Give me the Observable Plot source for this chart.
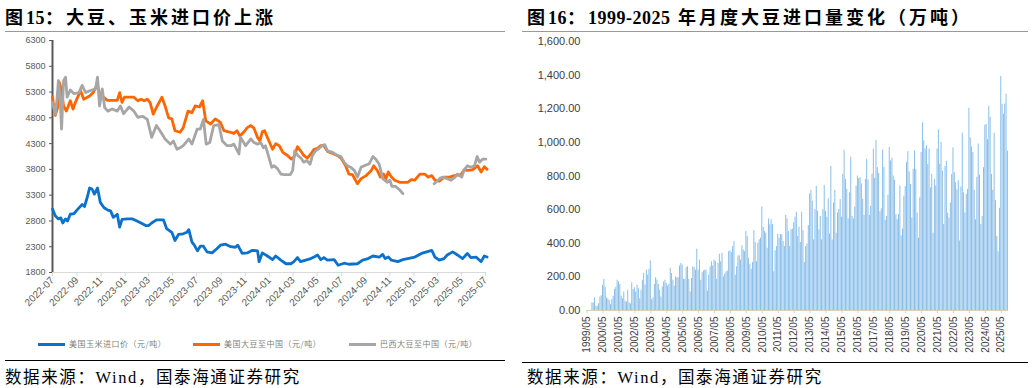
<!DOCTYPE html>
<html><head><meta charset="utf-8">
<script src="https://cdn.jsdelivr.net/npm/d3@7"></script>
<script src="https://cdn.jsdelivr.net/npm/@observablehq/plot@0.6"></script>
<style>
html,body{margin:0;padding:0;background:#fff}
body{width:1032px;height:388px;position:relative;overflow:hidden;font-family:"Liberation Sans",Arial,sans-serif}
.title{position:absolute;top:3px;font-family:"Liberation Serif","Noto Sans CJK SC",serif;font-weight:bold;font-size:18px;letter-spacing:3px;color:#000;white-space:nowrap}
.title .num{letter-spacing:0.5px}
.rule{position:absolute;height:0;border-top:1.5px solid #999}
.brule{position:absolute;height:0;border-top:1px solid #000}
.src{position:absolute;top:364px;font-family:"Liberation Serif","Noto Sans CJK SC",serif;font-size:16.5px;letter-spacing:1.6px;color:#000;white-space:nowrap}
.chart{position:absolute}
.lg{position:absolute;top:339px;height:10px}
.lg .sw{position:absolute;top:4px;width:27px;height:3px;left:0}
.lg .tx{position:absolute;left:31px;top:-1px;font-family:"Noto Sans CJK SC",sans-serif;font-size:8px;color:#808080;white-space:nowrap;letter-spacing:0.5px}
</style></head>
<body>
<div class="title" style="left:5px">图<span class="num">15</span>：大豆、玉米进口价上涨</div>
<div class="rule" style="left:5px;width:500px;top:31px"></div>
<div class="chart" id="left" style="left:0;top:30px"></div>
<div id="legend"></div>
<div class="brule" style="left:5px;width:500px;top:360px"></div>
<div class="src" style="left:5px">数据来源：Wind，国泰海通证券研究</div>

<div class="title" style="left:527px">图<span class="num">16</span>：<span class="num">1999-2025</span> 年月度大豆进口量变化（万吨）</div>
<div class="rule" style="left:522px;width:506px;top:31px"></div>
<div class="chart" id="right" style="left:520px;top:30px"></div>
<div class="brule" style="left:522px;width:506px;top:362px"></div>
<div class="src" style="left:527px">数据来源：Wind，国泰海通证券研究</div>

<script>
// ---------- Figure 15: prices (元/吨) ----------
const seriesNames = ["美国玉米进口价（元/吨）", "美国大豆至中国（元/吨）", "巴西大豆至中国（元/吨）"];
const seriesColors = ["#0a72cc", "#ff6600", "#a6a6a6"];
const priceTicks = [1800, 2300, 2800, 3300, 3800, 4300, 4800, 5300, 5800, 6300];
const dateTicks = ["2022-07","2022-09","2022-11","2023-01","2023-03","2023-05","2023-07","2023-09","2023-11","2024-01","2024-03","2024-05","2024-07","2024-09","2024-11","2025-01","2025-03","2025-05","2025-07"];

const usCorn = [["2022-07-01",3030],["2022-07-08",2900],["2022-07-16",2840],["2022-07-22",2860],["2022-07-27",2760],["2022-08-03",2840],["2022-08-08",2800],["2022-08-15",2930],["2022-08-24",2940],["2022-09-03",3030],["2022-09-14",3120],["2022-09-20",3080],["2022-09-27",3260],["2022-10-03",3440],["2022-10-09",3420],["2022-10-15",3320],["2022-10-23",3440],["2022-10-30",3160],["2022-11-08",3060],["2022-11-18",3010],["2022-11-25",2995],["2022-12-02",2870],["2022-12-12",2930],["2022-12-18",2680],["2022-12-24",2830],["2023-01-07",2840],["2023-01-19",2840],["2023-01-28",2810],["2023-02-10",2760],["2023-02-22",2710],["2023-03-01",2710],["2023-03-09",2760],["2023-03-21",2820],["2023-04-08",2820],["2023-04-16",2650],["2023-04-29",2580],["2023-05-07",2420],["2023-05-16",2540],["2023-05-28",2550],["2023-06-06",2580],["2023-06-11",2630],["2023-06-19",2390],["2023-06-25",2330],["2023-07-03",2220],["2023-07-10",2310],["2023-07-18",2310],["2023-07-27",2200],["2023-08-09",2180],["2023-08-21",2260],["2023-08-30",2330],["2023-09-12",2350],["2023-09-25",2300],["2023-10-07",2290],["2023-10-13",2330],["2023-10-24",2170],["2023-11-06",2180],["2023-11-19",2230],["2023-12-02",2220],["2023-12-06",2010],["2023-12-14",2180],["2023-12-27",2120],["2024-01-09",2050],["2024-01-17",2120],["2024-01-30",2040],["2024-02-12",1970],["2024-02-25",1970],["2024-03-03",2010],["2024-03-12",2090],["2024-03-20",2010],["2024-04-02",2040],["2024-04-15",2070],["2024-04-23",2100],["2024-05-02",2140],["2024-05-10",2050],["2024-05-18",2090],["2024-05-27",2040],["2024-06-13",2050],["2024-06-23",1940],["2024-07-08",1980],["2024-07-20",1960],["2024-08-11",1970],["2024-08-24",2040],["2024-09-07",2070],["2024-09-19",2120],["2024-10-05",2100],["2024-10-14",2150],["2024-10-20",2070],["2024-10-28",2100],["2024-11-05",2040],["2024-11-21",2010],["2024-12-04",2050],["2024-12-16",2070],["2025-01-03",2100],["2025-01-20",2170],["2025-02-02",2200],["2025-02-15",2230],["2025-02-23",2100],["2025-03-06",2040],["2025-03-18",2070],["2025-03-26",2140],["2025-04-09",2200],["2025-04-21",2140],["2025-05-04",2070],["2025-05-16",2170],["2025-05-25",2090],["2025-06-07",2100],["2025-06-20",2010],["2025-06-28",2120],["2025-07-05",2100]];

const usSoy = [["2022-07-01",5200],["2022-07-08",4850],["2022-07-14",5000],["2022-07-18",5490],["2022-07-23",5360],["2022-07-29",5030],["2022-08-05",4930],["2022-08-15",5130],["2022-08-22",4970],["2022-08-28",5100],["2022-09-10",5330],["2022-09-18",5160],["2022-10-03",5225],["2022-10-12",5290],["2022-10-22",5450],["2022-10-30",5225],["2022-11-08",5200],["2022-11-16",5140],["2022-12-12",5140],["2022-12-18",5290],["2022-12-24",5100],["2022-12-30",5200],["2023-01-23",5200],["2023-02-02",5130],["2023-02-10",5160],["2023-02-18",5130],["2023-02-26",5160],["2023-03-05",5100],["2023-03-13",4870],["2023-03-21",5000],["2023-04-04",5200],["2023-04-12",5030],["2023-04-21",4800],["2023-04-29",4780],["2023-05-07",4550],["2023-05-20",4520],["2023-05-28",4610],["2023-06-09",4930],["2023-06-19",4900],["2023-06-27",5030],["2023-07-08",5010],["2023-07-16",5130],["2023-07-24",4740],["2023-08-05",4680],["2023-08-17",4780],["2023-08-30",4710],["2023-09-08",4550],["2023-09-25",4520],["2023-10-03",4500],["2023-10-11",4550],["2023-10-18",4450],["2023-10-28",4520],["2023-11-06",4610],["2023-11-15",4650],["2023-11-23",4600],["2023-12-02",4420],["2023-12-08",4350],["2023-12-14",4530],["2023-12-20",4550],["2023-12-27",4420],["2024-01-09",4190],["2024-01-17",4300],["2024-01-26",4260],["2024-02-04",4130],["2024-02-16",4070],["2024-02-25",4000],["2024-03-03",4035],["2024-03-12",4240],["2024-03-20",4160],["2024-03-28",4070],["2024-04-06",4020],["2024-04-15",4100],["2024-04-23",4190],["2024-05-02",4210],["2024-05-10",4260],["2024-05-18",4260],["2024-05-27",4150],["2024-06-09",4110],["2024-06-21",4070],["2024-06-30",4020],["2024-07-12",3870],["2024-07-20",3710],["2024-07-29",3700],["2024-08-11",3520],["2024-08-20",3620],["2024-09-02",3680],["2024-09-15",3780],["2024-09-21",3870],["2024-09-30",3780],["2024-10-08",3650],["2024-10-16",3710],["2024-10-22",3620],["2024-10-28",3750],["2024-11-05",3650],["2024-11-13",3590],["2024-11-26",3550],["2024-12-16",3550],["2024-12-25",3600],["2025-01-03",3590],["2025-01-16",3710],["2025-01-28",3710],["2025-02-06",3650],["2025-02-15",3680],["2025-02-23",3590],["2025-03-06",3570],["2025-03-18",3650],["2025-04-01",3650],["2025-04-13",3680],["2025-04-30",3700],["2025-05-08",3790],["2025-05-16",3780],["2025-05-29",3790],["2025-06-11",3870],["2025-06-20",3750],["2025-06-28",3850],["2025-07-05",3800]];

const brSoy = [["2022-07-01",5100],["2022-07-08",4870],["2022-07-12",5130],["2022-07-16",5520],["2022-07-20",5200],["2022-07-24",4580],["2022-07-29",5520],["2022-08-03",5590],["2022-08-07",5200],["2022-08-15",5340],["2022-08-24",5270],["2022-09-06",5290],["2022-09-14",5430],["2022-09-23",5290],["2022-10-05",5330],["2022-10-18",5360],["2022-10-23",5590],["2022-10-28",5030],["2022-11-04",5360],["2022-11-10",5000],["2022-11-18",4930],["2022-11-29",4970],["2022-12-12",4930],["2022-12-20",5030],["2022-12-28",4880],["2023-01-11",5010],["2023-01-23",4930],["2023-02-02",4810],["2023-02-14",4830],["2023-02-26",4770],["2023-03-09",4420],["2023-03-21",4650],["2023-03-30",4550],["2023-04-12",4390],["2023-04-25",4290],["2023-05-03",4350],["2023-05-12",4190],["2023-05-20",4220],["2023-05-28",4260],["2023-06-11",4390],["2023-06-19",4290],["2023-07-02",4580],["2023-07-10",4580],["2023-07-18",4770],["2023-07-25",4290],["2023-08-03",4320],["2023-08-13",4650],["2023-08-26",4670],["2023-09-04",4350],["2023-09-16",4260],["2023-09-25",4260],["2023-10-03",4290],["2023-10-16",4100],["2023-10-20",4420],["2023-11-02",4260],["2023-11-15",4390],["2023-11-23",4320],["2023-12-02",4290],["2023-12-10",4320],["2023-12-17",4220],["2023-12-22",4260],["2024-01-01",4000],["2024-01-07",3840],["2024-01-13",3870],["2024-01-22",3810],["2024-01-30",3710],["2024-02-08",3700],["2024-02-23",3700],["2024-02-29",3780],["2024-03-05",4160],["2024-03-13",4070],["2024-03-21",4020],["2024-03-28",3940],["2024-04-05",3970],["2024-04-13",3900],["2024-04-19",4070],["2024-04-27",4160],["2024-05-06",4210],["2024-05-14",4260],["2024-05-20",4280],["2024-05-27",4160],["2024-06-09",4130],["2024-06-21",4070],["2024-06-30",4050],["2024-07-08",3940],["2024-07-16",3870],["2024-07-25",3840],["2024-08-03",3780],["2024-08-11",3650],["2024-08-20",3840],["2024-08-28",3870],["2024-09-10",3910],["2024-09-19",4050],["2024-09-27",3990],["2024-10-05",3900],["2024-10-14",3620],["2024-10-25",3550],["2024-11-01",3590],["2024-11-06",3470],["2024-11-15",3470],["2024-11-26",3400],["2024-12-04",3330],["2025-01-15",null],["2025-02-21",3520],["2025-02-28",3570],["2025-03-08",3630],["2025-03-16",3650],["2025-03-26",3620],["2025-04-05",3590],["2025-04-15",3650],["2025-04-21",3710],["2025-05-02",3650],["2025-05-08",3790],["2025-05-16",3870],["2025-05-25",3840],["2025-06-03",3870],["2025-06-10",4050],["2025-06-16",3940],["2025-06-24",4000],["2025-07-02",4000]];

// ---------- Figure 16: monthly soybean imports (万吨), 1999/05 – 2025/10 ----------
const importStart = "1999-05";
const soyImports = [
0,0,0,0,45,45,75,25,
25,40,80,88,150,185,138,75,68,60,35,65,85,
125,138,180,170,155,85,70,110,55,50,120,45,
40,165,125,135,110,150,130,70,120,180,220,150,240,
210,245,295,65,75,155,195,180,155,120,80,140,170,
180,160,145,155,250,220,180,145,200,195,195,265,
280,270,185,185,255,260,185,110,190,260,255,240,365,
240,300,180,225,235,240,240,115,210,260,290,265,
300,290,185,280,335,290,340,200,215,230,235,350,355,
345,380,410,210,260,325,325,300,385,360,350,470,440,
310,275,245,285,475,405,290,400,420,430,615,495,
470,460,370,545,510,
540,512,230,355,380,452,430,452,450,410,380,565,545,
470,380,480,484,520,555,585,440,495,405,585,475,
285,380,395,505,693,715,650,420,600,738,590,480,
560,420,600,743,590,555,665,455,857,420,640,715,
460,580,600,660,555,810,952,780,720,545,700,912,
560,545,615,740,800,785,790,753,660,565,780,900,
775,565,620,810,960,785,1012,850,815,587,605,955,
850,535,560,685,970,890,905,800,775,570,540,570,
740,445,485,680,737,880,945,825,750,550,840,950,
840,580,430,670,940,1116,1009,960,980,868,960,730,
810,460,780,740,960,1075,870,1000,830,511,857,887,
580,550,640,808,968,820,760,717,772,414,735,1055,
700,580,690,720,1203,1027,973,940,715,540,792,990,
806,511,560,850,1102,1107,1015,1215,1150,810,715,1055,
655,440,350,608,1392,1226,1167,1228,1287,948
];
const importTicks = [0, 200, 400, 600, 800, 1000, 1200, 1400, 1600];
const yearTicks = ["1999/05","2000/05","2001/05","2002/05","2003/05","2004/05","2005/05","2006/05","2007/05","2008/05","2009/05","2010/05","2011/05","2012/05","2013/05","2014/05","2015/05","2016/05","2017/05","2018/05","2019/05","2020/05","2021/05","2022/05","2023/05","2024/05","2025/05"];

// ---------- build left chart ----------
const toRows = (arr, name) => arr.map(([d, v]) => ({date: new Date(d + "T00:00:00Z"), value: v, name}));
const priceRows = [
  ...toRows(usCorn, seriesNames[0]),
  ...toRows(usSoy, seriesNames[1]),
  ...toRows(brSoy, seriesNames[2])
];
const tickDates = dateTicks.map(s => new Date(s + "-01T00:00:00Z"));
const xDomain = [tickDates[0], tickDates[tickDates.length - 1]];

const left = Plot.plot({
  width: 510, height: 300,
  marginTop: 10, marginBottom: 58, marginLeft: 52, marginRight: 25,
  style: {background: "transparent", fontFamily: "Liberation Sans, Arial, sans-serif", fontSize: "9px", color: "#595959", overflow: "visible"},
  x: {type: "utc", domain: xDomain},
  y: {domain: [priceTicks[0], priceTicks[priceTicks.length - 1]]},
  color: {domain: seriesNames, range: seriesColors},
  marks: [
    Plot.ruleY([priceTicks[0]], {stroke: "#d9d9d9", strokeWidth: 1.2}),
    Plot.axisX({ticks: tickDates, tickFormat: d3.utcFormat("%Y-%m"), tickRotate: -45, tickSize: 4, stroke: "#d9d9d9", fill: "#595959", label: null, fontSize: 10, tickPadding: 2}),
    Plot.axisY({ticks: priceTicks, tickFormat: d => String(d), tickSize: 3, tickPadding: 4, stroke: "#595959", label: null, fontSize: 9}),
    Plot.ruleX([xDomain[0]], {stroke: "#595959", strokeWidth: 2}),
    Plot.line(priceRows, {x: "date", y: "value", z: "name", stroke: "name", strokeWidth: 2.8, strokeLinejoin: "round", curve: "linear"})
  ]
});
document.getElementById("left").appendChild(left);

// legend
const legendX = [38, 193, 349];
const lg = document.getElementById("legend");
seriesNames.forEach((n, i) => {
  const d = document.createElement("div");
  d.className = "lg";
  d.style.left = legendX[i] + "px";
  d.innerHTML = `<div class="sw" style="background:${seriesColors[i]}"></div><div class="tx">${n}</div>`;
  lg.appendChild(d);
});

// ---------- build right chart ----------
const start = new Date(importStart + "-01T00:00:00Z");
const fmtMonth = d3.utcFormat("%Y/%m");
const importRows = soyImports.map((v, i) => ({month: fmtMonth(d3.utcMonth.offset(start, i)), value: v}));

const right = Plot.plot({
  width: 512, height: 330,
  marginTop: 11, marginBottom: 50, marginLeft: 66, marginRight: 24,
  style: {background: "transparent", fontFamily: "Liberation Sans, Arial, sans-serif", fontSize: "11px", color: "#404040", overflow: "visible"},
  x: {type: "band", domain: importRows.map(d => d.month), paddingInner: 0.28, paddingOuter: 0.1},
  y: {domain: [importTicks[0], importTicks[importTicks.length - 1]]},
  marks: [
    Plot.barY(importRows, {x: "month", y: "value", fill: "#86bce8"}),
    Plot.ruleY([importTicks[0]], {stroke: "#d8d0b8", strokeWidth: 1.2}),
    Plot.axisX({ticks: yearTicks, tickRotate: -90, tickSize: 3, stroke: "#d8d0b8", fill: "#404040", label: null, fontSize: 10, tickPadding: 3}),
    Plot.axisY({ticks: importTicks, tickFormat: d3.format(",.2f"), tickSize: 0, tickPadding: 6, label: null, fontSize: 11})
  ]
});
document.getElementById("right").appendChild(right);
</script>
</body></html>
